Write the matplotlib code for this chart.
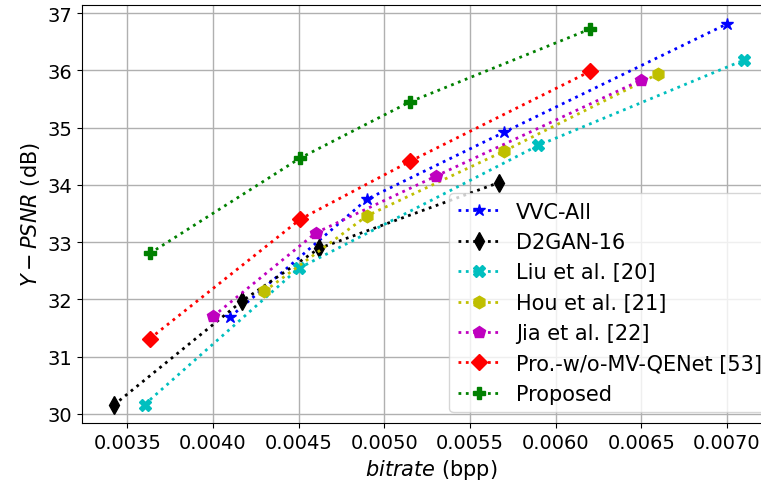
import matplotlib
matplotlib.use("Agg")
import matplotlib.pyplot as plt

# Rate-distortion points
vvc_x = [0.0041, 0.0049, 0.0057, 0.0070]
vvc_y = [31.69, 33.75, 34.92, 36.81]

d2gan_x = [0.00342, 0.00417, 0.00462, 0.00567]
d2gan_y = [30.15, 31.97, 32.89, 34.04]

liu_x = [0.0036, 0.0045, 0.0059, 0.0071]
liu_y = [30.16, 32.54, 34.69, 36.18]

hou_x = [0.0043, 0.0049, 0.0057, 0.0066]
hou_y = [32.14, 33.46, 34.59, 35.94]

jia_x = [0.0040, 0.0046, 0.0053, 0.0065]
jia_y = [31.70, 33.16, 34.15, 35.83]

pro_x = [0.00363, 0.00451, 0.00515, 0.0062]
pro_y = [31.31, 33.40, 34.41, 35.98]

prop_x = [0.00363, 0.00451, 0.00515, 0.0062]
prop_y = [32.80, 34.47, 35.45, 36.72]

labels = ["VVC-All", "D2GAN-16", "Liu et al. [20]", "Hou et al. [21]",
          "Jia et al. [22]", "Pro.-w/o-MV-QENet [53]", "Proposed"]

series = [(vvc_x, vvc_y, "b", "*", 9),
          (d2gan_x, d2gan_y, "k", "d", 9),
          (liu_x, liu_y, "c", "X", 9),
          (hou_x, hou_y, "y", "h", 9),
          (jia_x, jia_y, "m", "p", 9),
          (pro_x, pro_y, "r", "D", 8),
          (prop_x, prop_y, "g", "P", 9)]

fig, ax = plt.subplots(figsize=(7.61, 4.85), dpi=100)

for (x, y, c, m, ms), lab in zip(series, labels):
    ax.plot(x, y, linestyle=":", color=c, marker=m, markersize=ms,
            linewidth=2, label=lab)

# axes run a bit past the right edge of the picture, as in the reference
ax.set_xlim(0.003236, 0.007315)
ax.set_ylim(29.84, 37.145)
ax.set_xticks([0.0035, 0.0040, 0.0045, 0.0050, 0.0055, 0.0060, 0.0065, 0.0070])
ax.set_yticks([30, 31, 32, 33, 34, 35, 36, 37])
ax.tick_params(labelsize=14)
ax.grid(True, color="#b0b0b0", linewidth=1)

ax.set_xlabel("$bitrate$ (bpp)", fontsize=15)
ax.set_ylabel("$Y-PSNR$ (dB)", fontsize=15)

ax.legend(loc="lower right", fontsize=15, handlelength=2.0)

plt.subplots_adjust(left=0.108, right=1.026, top=0.988, bottom=0.126)
plt.savefig("out.png")
plt.close()
